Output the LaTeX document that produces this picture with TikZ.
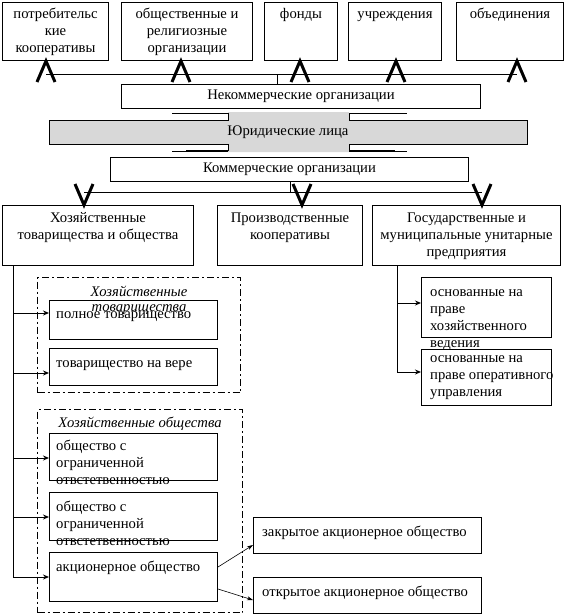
\documentclass[tikz,border=0pt]{standalone}
\usepackage{fontspec}
\setmainfont{Liberation Serif}
\usetikzlibrary{arrows.meta}
\definecolor{jurgray}{RGB}{216,216,216}
\tikzset{
  box/.style={draw, line width=1pt, inner sep=0pt, anchor=north west},
  mtxt/.style={font=\fontsize{14.67}{17}\selectfont},
  txt/.style={anchor=north, align=center, inner sep=0pt, font=\fontsize{14.67}{17}\selectfont},
  ltxt/.style={anchor=north west, align=left, inner sep=0pt, font=\fontsize{14.67}{17}\selectfont},
  ital/.style={anchor=north, align=center, inner sep=0pt, font=\fontsize{14.67}{15}\selectfont\itshape},
  chev/.style={line width=3pt, miter limit=10},
  conn/.style={line width=1pt},
  arr/.style={line width=1pt, -{Stealth[length=6pt,width=5pt]}},
  thinarr/.style={line width=0.6pt, -{Stealth[length=6pt,width=4pt]}},
  dashbox/.style={draw, line width=1pt, dash pattern=on 7pt off 3pt on 2pt off 3pt, inner sep=0pt, anchor=north west},
}
\begin{document}
\begin{tikzpicture}[x=1pt,y=-1pt]
\useasboundingbox (0,0) rectangle (566,614);
% top row
\node[box, minimum width=106pt, minimum height=58pt] (p1) at (2,2) {};
\node[box, minimum width=131pt, minimum height=58pt] (p2) at (121,2) {};
\node[box, minimum width=73pt, minimum height=58pt] (p3) at (264,2) {};
\node[box, minimum width=93pt, minimum height=58pt] (p4) at (348,2) {};
\node[box, minimum width=107pt, minimum height=58pt] (p5) at (456,2) {};
\node[txt] (p1t) at ([yshift=-4pt]p1.north) {\strut потребительс\\кие\\кооперативы};
\node[txt] (p2t) at ([yshift=-4pt]p2.north) {\strut общественные и\\религиозные\\организации};
\node[txt] (p3t) at ([yshift=-4pt]p3.north) {\strut фонды};
\node[txt] (p4t) at ([yshift=-4pt]p4.north) {\strut учреждения};
\node[txt] (p5t) at ([yshift=-4pt]p5.north) {\strut объединения};
% non-commercial
\node[box, mtxt, minimum width=359pt, minimum height=24pt] (nko) at (121,84) {Некоммерческие организации};
% bus to top row
\coordinate (busL) at (46,74);
\coordinate (busR) at (517,74);
\draw[conn] (busL) -- (busR);
\draw[conn] (nko.north -| 277,0) -- (277,74);
\foreach \n/\x in {p1/46,p2/181,p3/300,p4/396,p5/517}{
  \draw[chev] (\x-9,82) -- (\n.south -| \x,0) -- (\x+9,82);
}
% legal entities band
\fill[jurgray] (49,120) -- (228,120) -- (228,112) -- (349,112) -- (349,120) -- (527,120) -- (527,144)
  -- (349,144) -- (349,152) -- (228,152) -- (228,144) -- (49,144) -- cycle;
\draw[line width=1pt] (228,113) -- (228,120) -- (49,120) -- (49,144) -- (228,144) -- (228,151);
\draw[line width=1pt] (349,113) -- (349,120) -- (527,120) -- (527,144) -- (349,144) -- (349,151);
\draw[line width=0.6pt] (172,113) -- (228,113);
\draw[line width=0.6pt] (172,151) -- (228,151);
\draw[line width=0.6pt] (349,113) -- (407,113);
\draw[line width=0.6pt] (349,151) -- (407,151);
\draw[line width=1.4pt] (186,113.6) -- (228,113.6);
\draw[line width=1.4pt] (186,150.4) -- (228,150.4);
\draw[line width=1.4pt] (349,113.6) -- (395,113.6);
\draw[line width=1.4pt] (349,150.4) -- (395,150.4);
\node[mtxt] (jur) at (288,132) {Юридические лица};
% commercial
\node[box, mtxt, minimum width=358pt, minimum height=24pt] (ko) at (110,157) {Коммерческие организации};
% second row
\node[box, minimum width=191pt, minimum height=60pt] (hz) at (2,205) {};
\node[box, minimum width=145pt, minimum height=60pt] (pk) at (217,205) {};
\node[box, minimum width=188pt, minimum height=60pt] (gu) at (372,205) {};
\node[txt] (hzt) at ([yshift=-5pt]hz.north) {\strut Хозяйственные\\товарищества и общества};
\node[txt] (pkt) at ([yshift=-5pt]pk.north) {\strut Производственные\\кооперативы};
\node[txt] (gut) at ([yshift=-5pt]gu.north) {\strut Государственные и\\муниципальные унитарные\\предприятия};
\draw[conn] (ko.south -| 290,0) -- (290,192);
\draw[conn] (84,192) -- (482,192);
\foreach \n/\x in {hz/84,pk/302,gu/482}{
  \draw[chev] (\x-9,184) -- (\n.north -| \x,0) -- (\x+9,184);
}
% dash boxes
\node[dashbox, minimum width=203pt, minimum height=115pt] (d1) at (37,277) {};
\node[dashbox, minimum width=205pt, minimum height=203pt] (d2) at (37,409) {};
% partnerships
\node[box, minimum width=168pt, minimum height=39pt] (pt) at (49,300) {};
\node[box, minimum width=168pt, minimum height=37pt] (tv) at (49,348) {};
\node[ital] (d1t) at ([yshift=-8.5pt]d1.north) {\strut Хозяйственные\\товарищества};
\node[ltxt] (ptt) at ([xshift=7pt,yshift=-6pt]pt.north west) {\strut полное товарищество};
\node[ltxt] (tvt) at ([xshift=7pt,yshift=-7pt]tv.north west) {\strut товарищество на вере};
% companies
\node[box, minimum width=168pt, minimum height=47pt] (o1) at (49,433) {};
\node[box, minimum width=168pt, minimum height=48pt] (o2) at (49,492) {};
\node[box, minimum width=168pt, minimum height=49pt] (ao) at (49,552) {};
\node[ital] (d2t) at ([yshift=-7.5pt]d2.north) {\strut Хозяйственные общества};
\node[ltxt] (o1t) at ([xshift=7pt,yshift=-5pt]o1.north west) {\strut общество с\\ограниченной\\отвстетвенностью};
\node[ltxt] (o2t) at ([xshift=7pt,yshift=-7pt]o2.north west) {\strut общество с\\ограниченной\\отвстетвенностью};
\node[ltxt] (aot) at ([xshift=7pt,yshift=-7pt]ao.north west) {\strut акционерное общество};
% joint-stock
\node[box, minimum width=228pt, minimum height=36pt] (zao) at (253,517) {};
\node[box, minimum width=228pt, minimum height=36pt] (oao) at (253,577) {};
\node[ltxt] (zaot) at ([xshift=9pt,yshift=-7pt]zao.north west) {\strut закрытое акционерное общество};
\node[ltxt] (oaot) at ([xshift=9pt,yshift=-7pt]oao.north west) {\strut открытое акционерное общество};
% unitary
\node[box, minimum width=130pt, minimum height=60pt] (g1) at (421,277) {};
\node[box, minimum width=130pt, minimum height=56pt] (g2) at (421,349) {};
\node[ltxt] (g1t) at ([xshift=9pt,yshift=-7pt]g1.north west) {\strut основанные на\\праве\\хозяйственного\\ведения};
\node[ltxt] (g2t) at ([xshift=9pt,yshift=-1pt]g2.north west) {\strut основанные на\\праве оперативного\\управления};
% left trunk
\coordinate (lx) at (13,0);
\draw[conn] (hz.south -| lx) -- (13,577);
\draw[arr] (13,313) -- (pt.west |- 0,313);
\draw[arr] (13,373) -- (tv.west |- 0,373);
\draw[arr] (13,458) -- (o1.west |- 0,458);
\draw[arr] (13,517) -- (o2.west |- 0,517);
\draw[arr] (13,577) -- (ao.west |- 0,577);
% unitary trunk
\coordinate (gx) at (397,0);
\draw[conn] (gu.south -| gx) -- (397,372);
\draw[arr] (397,303) -- (g1.west |- 0,303);
\draw[arr] (397,372) -- (g2.west |- 0,372);
% joint-stock arrows
\draw[thinarr] (ao.east |- 0,567) -- (zao.west |- 0,545);
\draw[thinarr] (ao.east |- 0,589) -- (oao.west |- 0,600);
\end{tikzpicture}
\end{document}
